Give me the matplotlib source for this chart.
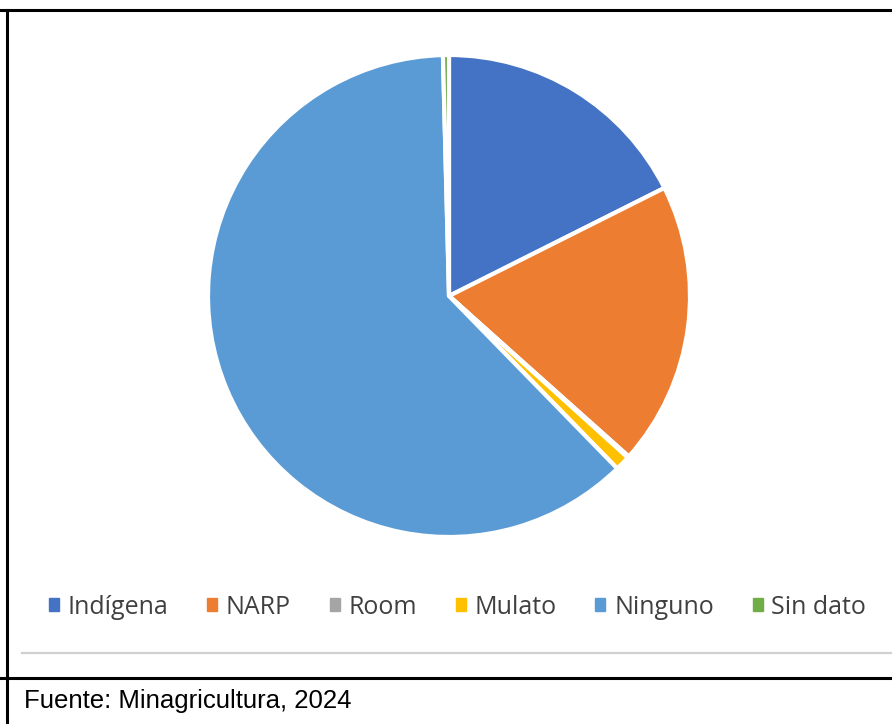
import matplotlib.pyplot as plt
from matplotlib.lines import Line2D
from matplotlib.patches import Patch

categories = ["Indígena", "NARP", "Room", "Mulato", "Ninguno", "Sin dato"]
values = [17.6, 19.0, 0.1, 1.0, 61.9, 0.4]
colors = ["#4472C4", "#ED7D31", "#A5A5A5", "#FFC000", "#5B9BD5", "#70AD47"]
source = "Fuente: Minagricultura, 2024"

W, H = 892, 724
fig = plt.figure(figsize=(W / 100, H / 100), dpi=100)

# pie area: centre ~ (449, 296), radius ~ 241 px
cx, cy, r = 449, 296, 241
ax = fig.add_axes([(cx - r) / W, 1 - (cy + r) / H, 2 * r / W, 2 * r / H])
ax.pie(values, colors=colors, startangle=90, counterclock=False,
       wedgeprops=dict(edgecolor="white", linewidth=3))
ax.set_xlim(-1, 1)
ax.set_ylim(-1, 1)
ax.set_aspect("equal")
ax.axis("off")

handles = [Patch(facecolor=c, edgecolor=c) for c in colors]
fig.legend(handles, categories, loc="center", bbox_to_anchor=(0.513, 1 - 607 / H),
           ncol=6, frameon=False, handlelength=0.4, handleheight=0.4,
           handletextpad=0.35, columnspacing=1.55,
           prop=dict(family="Open Sans", size=18), labelcolor="#404040")

# table-like frame
def hline(y, x0=0, x1=W, color="black", lw=2.2):
    fig.add_artist(Line2D([x0 / W, x1 / W], [1 - y / H, 1 - y / H], color=color, lw=lw))

hline(10)
hline(678)
hline(653, x0=22, color="#d0d0d0", lw=1.6)
fig.add_artist(Line2D([7 / W, 7 / W], [0, 1 - 10 / H], color="black", lw=2.2))

fig.text(24 / W, 1 - 701 / H, source, family="Liberation Sans", fontsize=18.5,
         va="center", ha="left", color="black")

fig.savefig("out.png", dpi=100, facecolor="white")
